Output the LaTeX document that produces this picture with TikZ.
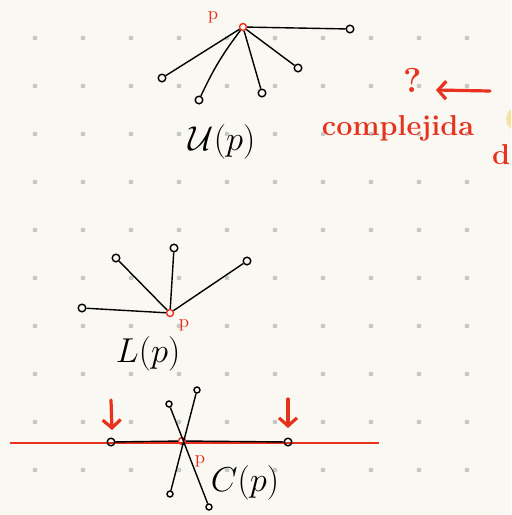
\documentclass[tikz,border=0pt]{standalone}
\usepackage{amsmath,amssymb}
\usetikzlibrary{arrows.meta,positioning}
\definecolor{paper}{HTML}{FAF8F3}
\definecolor{pen}{HTML}{E8321E}
\definecolor{griddot}{HTML}{C8C8C8}
\definecolor{marker}{HTML}{F7E3A1}

\begin{document}
\begin{tikzpicture}[x=0.5pt,y=-0.5pt,
  every node/.style={inner sep=0pt},
  vtx/.style={draw,circle,minimum size=3.8pt,line width=0.7pt},
  pvtx/.style={draw=pen,circle,minimum size=3.5pt,line width=0.7pt},
  seg/.style={line width=0.7pt},
  plab/.style={text=pen,font=\small},
  sketch/.style={font=\LARGE},
  redpen/.style={pen,line width=1.6pt,line cap=round}]
\fill[paper] (0,0) rectangle (511,515);
\useasboundingbox (0,0) rectangle (511,515);
\clip (0,0) rectangle (511,515);
\foreach \i in {0,...,9}{\foreach \j in {0,...,9}{\fill[griddot] (35+48*\i,38+48*\j) circle (1.2pt);}}

% upper set U(p)
\node[pvtx] (pu) at (243,27) {};
\node[plab] (pulab) at (213,17) {p};
\node[vtx] (u1) at (350,29) {};
\node[vtx] (u2) at (162,78) {};
\node[vtx] (u3) at (199,100) {};
\node[vtx] (u4) at (262,93) {};
\node[vtx] (u5) at (298,68) {};
\foreach \u in {u1,u2,u4,u5}{\draw[seg] (pu)--(\u);}
\draw[seg] (pu) to[bend right=6] (u3);
\node[sketch] (ulab) at (222,142) {$\mathcal{U}(p)$};

% note
\node[text=pen,font=\LARGE\bfseries] (qm) at (413,80) {?};
\coordinate (arrtail) at (490,91);
\coordinate (arrtip) at (436,90);
\draw[redpen,-{Straight Barb[length=4pt,width=9pt]}] (arrtail)--(arrtip);
\node[text=pen,font=\Large\bfseries] (note) at (398,128) {complejida};
\fill[marker] (518,119) circle (12);
\node[text=pen,font=\Large\bfseries] (noted) at (501,155) {d};

% lower set L(p)
\node[pvtx] (pl) at (170,313) {};
\node[plab] (pllab) at (184,325) {p};
\node[vtx] (l1) at (82,308) {};
\node[vtx] (l2) at (116,258) {};
\node[vtx] (l3) at (174,248) {};
\node[vtx] (l4) at (247,261) {};
\foreach \l in {l1,l2,l3,l4}{\draw[seg] (pl)--(\l);}
\node[sketch] (llab) at (148,354) {$L(p)$};

% C(p)
\coordinate (lineL) at (10,443);
\coordinate (lineR) at (379,443);
\draw[pen,line width=1.4pt] (lineL)--(lineR);
\node[pvtx] (pc) at (182,441) {};
\node[vtx] (c1) at (111,442) {};
\node[vtx] (c2) at (288,442) {};
\draw[seg] (c1)--(pc) (pc)--(c2);
\node[vtx,minimum size=3pt] (c3) at (197,390) {};
\node[vtx,minimum size=3pt] (c4) at (170,494) {};
\node[vtx,minimum size=3pt] (c5) at (169,404) {};
\node[vtx,minimum size=3pt] (c6) at (209,507) {};
\draw[seg] (c3)--(c4) (c5)--(c6);
\node[plab] (pclab) at (200,461) {p};
\node[sketch] (clab) at (245,483) {$C(p)$};
\coordinate (mk1a) at (111,400);
\coordinate (mk1b) at (112,430);
\coordinate (mk2a) at (288,399);
\coordinate (mk2b) at (288,428);
\draw[redpen,-{Straight Barb[length=4pt,width=9pt]}] (mk1a)--(mk1b);
\draw[redpen,-{Straight Barb[length=4pt,width=9pt]}] (mk2a)--(mk2b);
\end{tikzpicture}
\end{document}
